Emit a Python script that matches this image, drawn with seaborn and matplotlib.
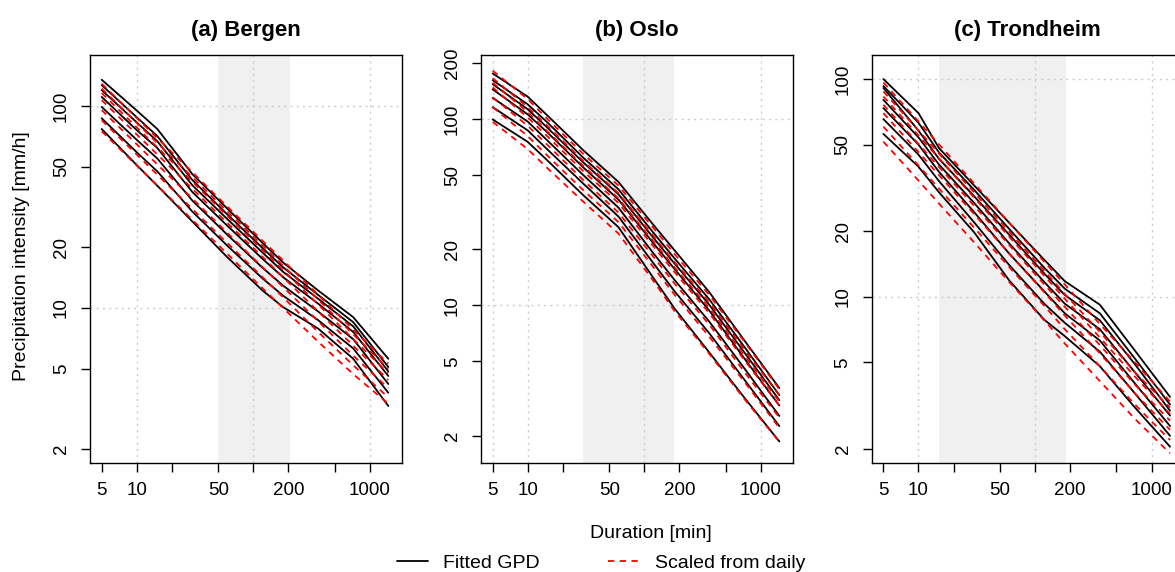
import matplotlib
matplotlib.use("Agg")
import matplotlib.pyplot as plt
import seaborn as sns
import pandas as pd
from matplotlib.ticker import FixedLocator, NullLocator
from matplotlib.lines import Line2D

# ---------------- data ----------------
durations = [5, 10, 15, 30, 60, 120, 180, 360, 720, 1440]

bergen_fitted = [
    [135, 95, 77, 46, 31, 21, 16.8, 12.2, 9.0, 5.6],
    [127, 88, 71, 43, 29, 19.8, 15.9, 11.6, 8.5, 5.1],
    [120, 83, 67, 40.5, 27.5, 18.8, 15.1, 11.1, 8.1, 4.85],
    [111, 76, 62, 37.5, 25.5, 17.5, 14.2, 10.5, 7.6, 4.6],
    [99, 68, 55, 34, 23, 15.8, 12.9, 9.6, 7.0, 4.2],
    [87, 59, 47.5, 30, 20.3, 14, 11.5, 8.7, 6.3, 3.8],
    [77, 51, 40.3, 26.8, 17.8, 12.2, 10.1, 7.9, 5.6, 3.27],
]
bergen_scaled = [
    [129, 87.2, 69.4, 47.0, 31.7, 21.5, 17.2, 11.6, 7.8, 5.3],
    [122, 82.5, 65.6, 44.4, 30.0, 20.4, 16.2, 11.0, 7.4, 5.0],
    [116, 78.4, 62.4, 42.2, 28.5, 19.4, 15.4, 10.4, 7.0, 4.75],
    [107, 72.3, 57.6, 38.9, 26.3, 17.9, 14.2, 9.6, 6.5, 4.4],
    [95.5, 64.6, 51.4, 34.8, 23.5, 15.9, 12.7, 8.6, 5.8, 4.0],
    [85, 57.5, 45.7, 30.9, 20.9, 14.2, 11.3, 7.6, 5.2, 3.6],
    [75, 50.7, 40.4, 27.3, 18.5, 12.5, 10.0, 6.8, 4.7, 3.35],
]

oslo_fitted = [
    [176, 132, 103.5, 68, 46, 27, 19.9, 11.8, 6.5, 3.6],
    [162, 120, 95, 62, 42, 24.5, 18, 10.8, 6.0, 3.3],
    [154, 113, 89, 58.5, 39.5, 23, 16.9, 10.1, 5.6, 3.1],
    [144.5, 106, 84, 55, 37, 21.5, 15.8, 9.4, 5.2, 2.9],
    [130, 97, 76, 50, 33.5, 19, 13.8, 8.2, 4.6, 2.55],
    [116, 87, 68, 45, 30, 16.8, 12, 7.1, 4.0, 2.25],
    [99.6, 75.5, 59.4, 39, 26.3, 14, 9.7, 5.6, 3.2, 1.86],
]
oslo_scaled = [
    [182, 128, 99, 65, 44, 26, 19, 11.4, 6.4, 3.55],
    [166, 116, 91, 59.5, 40, 23.5, 17.2, 10.4, 5.8, 3.3],
    [157, 109, 85, 56, 37.5, 22, 16.1, 9.7, 5.4, 3.05],
    [148, 102, 80, 52.5, 35.5, 20.7, 15.2, 9.1, 5.1, 2.9],
    [131, 92, 72, 47, 31.5, 18.2, 13.2, 7.9, 4.4, 2.5],
    [116, 81, 63, 41.5, 28, 16, 11.5, 6.8, 3.9, 2.2],
    [96.7, 69, 54, 36, 24.3, 13.5, 9.4, 5.5, 3.15, 1.85],
]

trondheim_fitted = [
    [100, 69.8, 48.2, 32.5, 21.9, 14.8, 11.8, 9.2, 5.66, 3.47],
    [93, 63, 46, 31, 20.5, 13.6, 10.9, 8.4, 5.2, 3.2],
    [91, 58, 43, 29, 19.3, 12.8, 10.2, 7.8, 4.9, 3.0],
    [80.3, 54, 40.5, 27, 17.6, 11.7, 9.3, 7.1, 4.5, 2.85],
    [73.6, 50, 37.5, 24.5, 15.8, 10.6, 8.4, 6.3, 4.0, 2.55],
    [65.5, 45, 34, 22, 14, 9.3, 7.6, 5.6, 3.6, 2.3],
    [56, 39.6, 30.2, 19.8, 11.9, 7.85, 6.6, 4.8, 3.1, 2.05],
]
trondheim_scaled = [
    [96.5, 63.9, 50.1, 33.2, 21.9, 14.5, 11.4, 7.5, 5.0, 3.3],
    [87.7, 58.1, 45.5, 30.2, 19.9, 13.2, 10.3, 6.9, 4.5, 3.1],
    [83.2, 55.1, 43.2, 28.6, 18.9, 12.5, 9.8, 6.5, 4.3, 2.9],
    [76.2, 50.4, 39.5, 26.2, 17.3, 11.4, 9.0, 6.0, 3.95, 2.7],
    [69.8, 46.2, 36.2, 24.0, 15.8, 10.5, 8.2, 5.5, 3.6, 2.45],
    [60.5, 40.1, 31.4, 20.8, 13.7, 9.1, 7.1, 4.8, 3.2, 2.2],
    [51.6, 34.2, 26.8, 17.8, 11.7, 7.8, 6.1, 4.1, 2.75, 1.91],
]

titles = ["(a) Bergen", "(b) Oslo", "(c) Trondheim"]
shade_ranges = [(50, 205), (30, 178), (15, 183)]
x_ticks = [5, 10, 20, 50, 100, 200, 500, 1000]
x_tick_labels = ["5", "10", "", "50", "", "200", "", "1000"]
y_ticks = [[2, 5, 10, 20, 50, 100], [2, 5, 10, 20, 50, 100, 200], [2, 5, 10, 20, 50, 100]]
y_limits = [(1.70, 179), (1.42, 221), (1.72, 129)]
x_limits = (3.97, 1875)
x_grid = [[10, 100, 1000], [5, 10, 100, 1000], [10, 100, 1000]]
y_grid = [10, 100]

# ---------------- style ----------------
sns.set_theme(style="white")
plt.rcParams["font.family"] = ["Liberation Sans", "DejaVu Sans"]
plt.rcParams["axes.edgecolor"] = "black"
plt.rcParams["axes.linewidth"] = 1.0
plt.rcParams["text.color"] = "black"
plt.rcParams["axes.labelcolor"] = "black"
plt.rcParams["xtick.color"] = "black"
plt.rcParams["ytick.color"] = "black"
plt.rcParams["axes.titlecolor"] = "black"

W, H = 1175, 572
fig = plt.figure(figsize=(W / 100, H / 100), dpi=100)
fig.patch.set_facecolor("white")

lefts = [90, 481, 871.7]
ax_w, ax_top, ax_bot = 311.7, 55, 463.3

panels = [
    (bergen_fitted, bergen_scaled),
    (oslo_fitted, oslo_scaled),
    (trondheim_fitted, trondheim_scaled),
]

for i, (fitted, scaled) in enumerate(panels):
    ax = fig.add_axes([lefts[i] / W, 1 - ax_bot / H, ax_w / W, (ax_bot - ax_top) / H])
    ax.set_facecolor("white")
    ax.set_xscale("log")
    ax.set_yscale("log")
    ax.set_xlim(*x_limits)
    ax.set_ylim(*y_limits[i])

    ax.axvspan(shade_ranges[i][0], shade_ranges[i][1], color="#F0F0F0", lw=0, zorder=0)
    for gx in x_grid[i]:
        ax.axvline(gx, color="#CCCCCC", lw=1.0, ls=(0, (1.5, 3)), zorder=1)
    for gy in y_grid:
        ax.axhline(gy, color="#CCCCCC", lw=1.0, ls=(0, (1.5, 3)), zorder=1)

    for vals in fitted:
        df = pd.DataFrame({"duration": durations, "intensity": vals})
        sns.lineplot(data=df, x="duration", y="intensity", ax=ax, color="black",
                     lw=1.3, estimator=None, sort=False, zorder=3)
    for vals in scaled:
        df = pd.DataFrame({"duration": durations, "intensity": vals})
        sns.lineplot(data=df, x="duration", y="intensity", ax=ax, color="#FF0000",
                     lw=1.3, estimator=None, sort=False, zorder=4,
                     linestyle=(0, (3.5, 3)))

    ax.xaxis.set_major_locator(FixedLocator(x_ticks))
    ax.xaxis.set_minor_locator(NullLocator())
    ax.set_xticklabels(x_tick_labels)
    ax.yaxis.set_major_locator(FixedLocator(y_ticks[i]))
    ax.yaxis.set_minor_locator(NullLocator())
    ax.set_yticklabels([str(v) for v in y_ticks[i]])
    ax.tick_params(axis="both", direction="out", length=6.5, width=1, colors="black",
                   labelcolor="black", labelsize=13.5, bottom=True, left=True)
    ax.tick_params(axis="x", pad=7)
    ax.tick_params(axis="y", pad=8)
    for lab in ax.get_yticklabels():
        lab.set_rotation(90)
        lab.set_va("center")
    for sp in ax.spines.values():
        sp.set_visible(True)
        sp.set_color("black")
        sp.set_linewidth(1.0)
    ax.set_xlabel("")
    ax.set_ylabel("")
    ax.set_title(titles[i], fontweight="bold", fontsize=16, pad=14, color="black")

fig.text(22 / W, 1 - 256 / H, "Precipitation intensity [mm/h]", rotation=90,
         ha="center", va="center", fontsize=14, color="black")
fig.text(651 / W, 1 - 533 / H, "Duration [min]", ha="center", va="center",
         fontsize=14, color="black")

handles = [Line2D([], [], color="black", lw=1.3),
           Line2D([], [], color="#FF0000", lw=1.3, linestyle=(0, (3.5, 3)))]
leg = fig.legend(handles, ["Fitted GPD", "Scaled from daily"], loc="center",
                 bbox_to_anchor=(601 / W, 1 - 563 / H), ncol=2, frameon=False, fontsize=14,
                 handlelength=1.6, handletextpad=0.8, columnspacing=3.5)
for t in leg.get_texts():
    t.set_color("black")

fig.savefig("out.png", dpi=100, facecolor="white")
